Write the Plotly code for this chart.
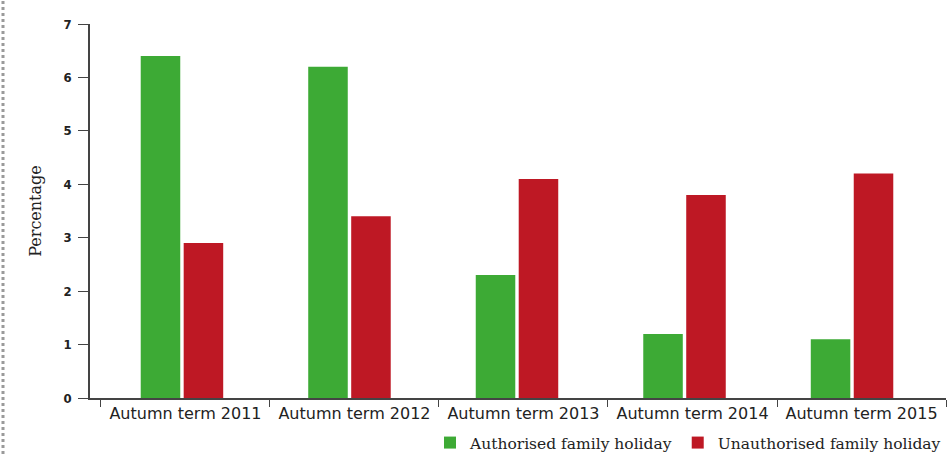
import plotly.graph_objects as go

categories = ["Autumn term 2011", "Autumn term 2012", "Autumn term 2013", "Autumn term 2014", "Autumn term 2015"]
authorised = [6.4, 6.2, 2.3, 1.2, 1.1]
unauthorised = [2.9, 3.4, 4.1, 3.8, 4.2]
y_ticks = [0, 1, 2, 3, 4, 5, 6, 7]

positions = list(range(len(categories)))

fig = go.Figure()
fig.add_trace(go.Bar(x=positions, y=authorised, name="Authorised family holiday",
                     marker=dict(color="#3DAA35", line=dict(width=0)),
                     hovertext=categories, xaxis="x", yaxis="y"))
fig.add_trace(go.Bar(x=positions, y=unauthorised, name="Unauthorised family holiday",
                     marker=dict(color="#BE1824", line=dict(width=0)),
                     hovertext=categories, xaxis="x", yaxis="y"))
# invisible trace carrying the category labels on the label axis
fig.add_trace(go.Scatter(x=categories, y=[0] * len(categories), mode="markers",
                         marker=dict(opacity=0), showlegend=False, hoverinfo="skip",
                         xaxis="x2", yaxis="y"))

W, H = 948, 454
L, R, T, B = 90, 2, 24, 56
pw = W - L - R

fig.update_layout(
    width=W, height=H,
    margin=dict(l=L, r=R, t=T, b=B),
    paper_bgcolor="white", plot_bgcolor="white",
    barmode="group", bargap=0.487, bargroupgap=0.08,
    showlegend=True,
    legend=dict(orientation="h", x=946 / W, xanchor="right", xref="container",
                y=(H - 443) / H, yanchor="middle", yref="container",
                font=dict(family="DejaVu Serif", size=15.5, color="#222"),
                itemwidth=30, traceorder="normal"),
    xaxis=dict(range=[-0.549, 4.561], showticklabels=False, ticks="",
               showline=False, showgrid=False, zeroline=False, automargin=False),
    xaxis2=dict(type="category", range=[-0.565, 4.5], overlaying="x", side="bottom",
                anchor="y",
                showline=True, linecolor="#444", linewidth=1.5,
                ticks="outside", tickson="boundaries", ticklen=7, tickcolor="#444", tickwidth=1,
                tickfont=dict(family="DejaVu Sans", size=16, color="#222"),
                showgrid=False, zeroline=False, automargin=False),
    yaxis=dict(range=[0, 7], tickvals=y_ticks, ticktext=[str(v) for v in y_ticks],
               showline=True, linecolor="#444", linewidth=1.5,
               ticks="outside", ticklen=10, tickcolor="#444", tickwidth=1,
               ticklabelstandoff=4,
               tickfont=dict(family="DejaVu Sans Condensed", size=13, color="#222", weight="bold"),
               showgrid=False, zeroline=False, automargin=False,
               title=dict(text="Percentage", font=dict(family="DejaVu Serif", size=16, color="#222"),
                          standoff=18)),
    shapes=[dict(type="line", xref="paper", yref="paper",
                 x0=-(L - 3) / pw, x1=-(L - 3) / pw, y0=-B / (H - T - B), y1=1 + T / (H - T - B),
                 line=dict(color="#9a9a9a", width=3, dash="dot"))],
)

fig.write_html("out.html")
